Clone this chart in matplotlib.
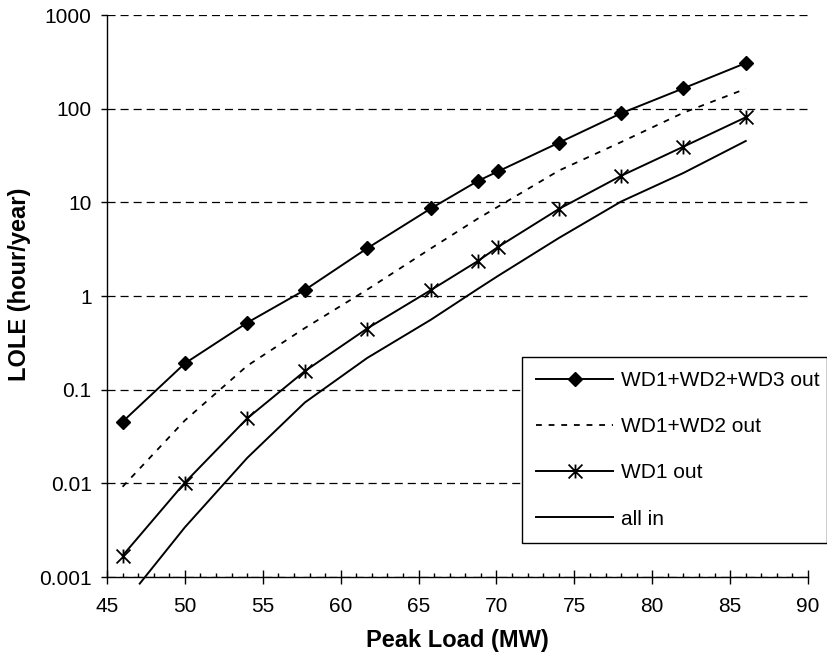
import matplotlib
matplotlib.use("Agg")
import matplotlib.pyplot as plt
from matplotlib.path import Path
from matplotlib.ticker import FixedLocator, FixedFormatter, MultipleLocator

# Peak load points (MW) and LOLE values (hour/year)
load = [46, 50, 54, 57.7, 61.7, 65.8, 68.8, 70.1, 74, 78, 82, 86]
wd123_out = [0.0455, 0.191, 0.519, 1.16, 3.23, 8.63, 16.9, 21.4, 43.3, 89.3, 165, 307]
wd12_out = [0.0092, 0.047, 0.18, 0.455, 1.17, 3.23, 6.7, 9.0, 21.8, 44, 90.6, 163]
wd1_out = [0.00169, 0.0102, 0.0494, 0.158, 0.45, 1.16, 2.36, 3.34, 8.49, 19.2, 39.3, 80.9]

load_all_in = [47.1, 50, 54, 57.7, 61.7, 65.8, 68.8, 70.1, 74, 78, 82, 86]
all_in = [0.00085, 0.0034, 0.0187, 0.073, 0.218, 0.56, 1.19, 1.64, 4.16, 10.2, 20.6, 45.2]

y_ticks = [0.001, 0.01, 0.1, 1, 10, 100, 1000]
y_tick_labels = ["0.001", "0.01", "0.1", "1", "10", "100", "1000"]

plt.rcParams["font.family"] = ["Liberation Sans", "DejaVu Sans"]
plt.rcParams["lines.scale_dashes"] = False

# Excel-style asterisk marker: an X plus a vertical bar
star = Path(
    [(0, -1), (0, 1), (-1, -1), (1, 1), (-1, 1), (1, -1)],
    [Path.MOVETO, Path.LINETO, Path.MOVETO, Path.LINETO, Path.MOVETO, Path.LINETO],
)

fig = plt.figure(figsize=(8.27, 6.56), dpi=100)
ax = fig.add_axes([0.1294, 0.1204, 0.8477, 0.8567])

ax.plot(load, wd123_out, color="black", lw=1.4, marker="D", ms=7,
        label="WD1+WD2+WD3 out")
ax.plot(load, wd12_out, color="black", lw=1.3, ls=(0, (4.2, 4.9)),
        label="WD1+WD2 out")
ax.plot(load, wd1_out, color="black", lw=1.4, marker=star, ms=10, mew=1.3,
        label="WD1 out")
ax.plot(load_all_in, all_in, color="black", lw=1.4, label="all in",
        clip_on=False)

ax.set_yscale("log")
ax.set_ylim(0.001, 1000)
ax.set_xlim(45, 90)
ax.yaxis.set_major_locator(FixedLocator(y_ticks))
ax.yaxis.set_major_formatter(FixedFormatter(y_tick_labels))
ax.yaxis.set_minor_locator(FixedLocator([]))
ax.xaxis.set_major_locator(MultipleLocator(5))
ax.xaxis.set_minor_locator(MultipleLocator(1))

ax.grid(axis="y", which="major", color="black", lw=0.9, ls=(0, (5.8, 3.6)))
for s in ["top", "right"]:
    ax.spines[s].set_visible(False)
for s in ["left", "bottom"]:
    ax.spines[s].set_linewidth(1.0)

ax.tick_params(axis="x", which="major", direction="inout", length=9.4,
               width=1.0, labelsize=15, pad=10)
ax.tick_params(axis="x", which="minor", direction="in", length=3, width=1.0)
ax.tick_params(axis="y", which="major", direction="out", length=4,
               width=1.0, labelsize=15, pad=7)

ax.set_xlabel("Peak Load (MW)", fontsize=17, fontweight="bold", labelpad=9)
ax.set_ylabel("LOLE (hour/year)", fontsize=17, fontweight="bold")
ax.yaxis.set_label_coords(-0.108, 0.52)

leg = ax.legend(loc="upper left", bbox_to_anchor=(0.6308, 0.1707, 0.3692, 0.2855),
                bbox_transform=fig.transFigure, mode="expand", fontsize=15,
                frameon=True, fancybox=False, framealpha=1, edgecolor="black",
                handlelength=3.7, handletextpad=0.35, labelspacing=1.3,
                borderpad=0.7, borderaxespad=0, numpoints=1)
leg.get_frame().set_linewidth(1.0)

fig.savefig("out.png", dpi=100)
